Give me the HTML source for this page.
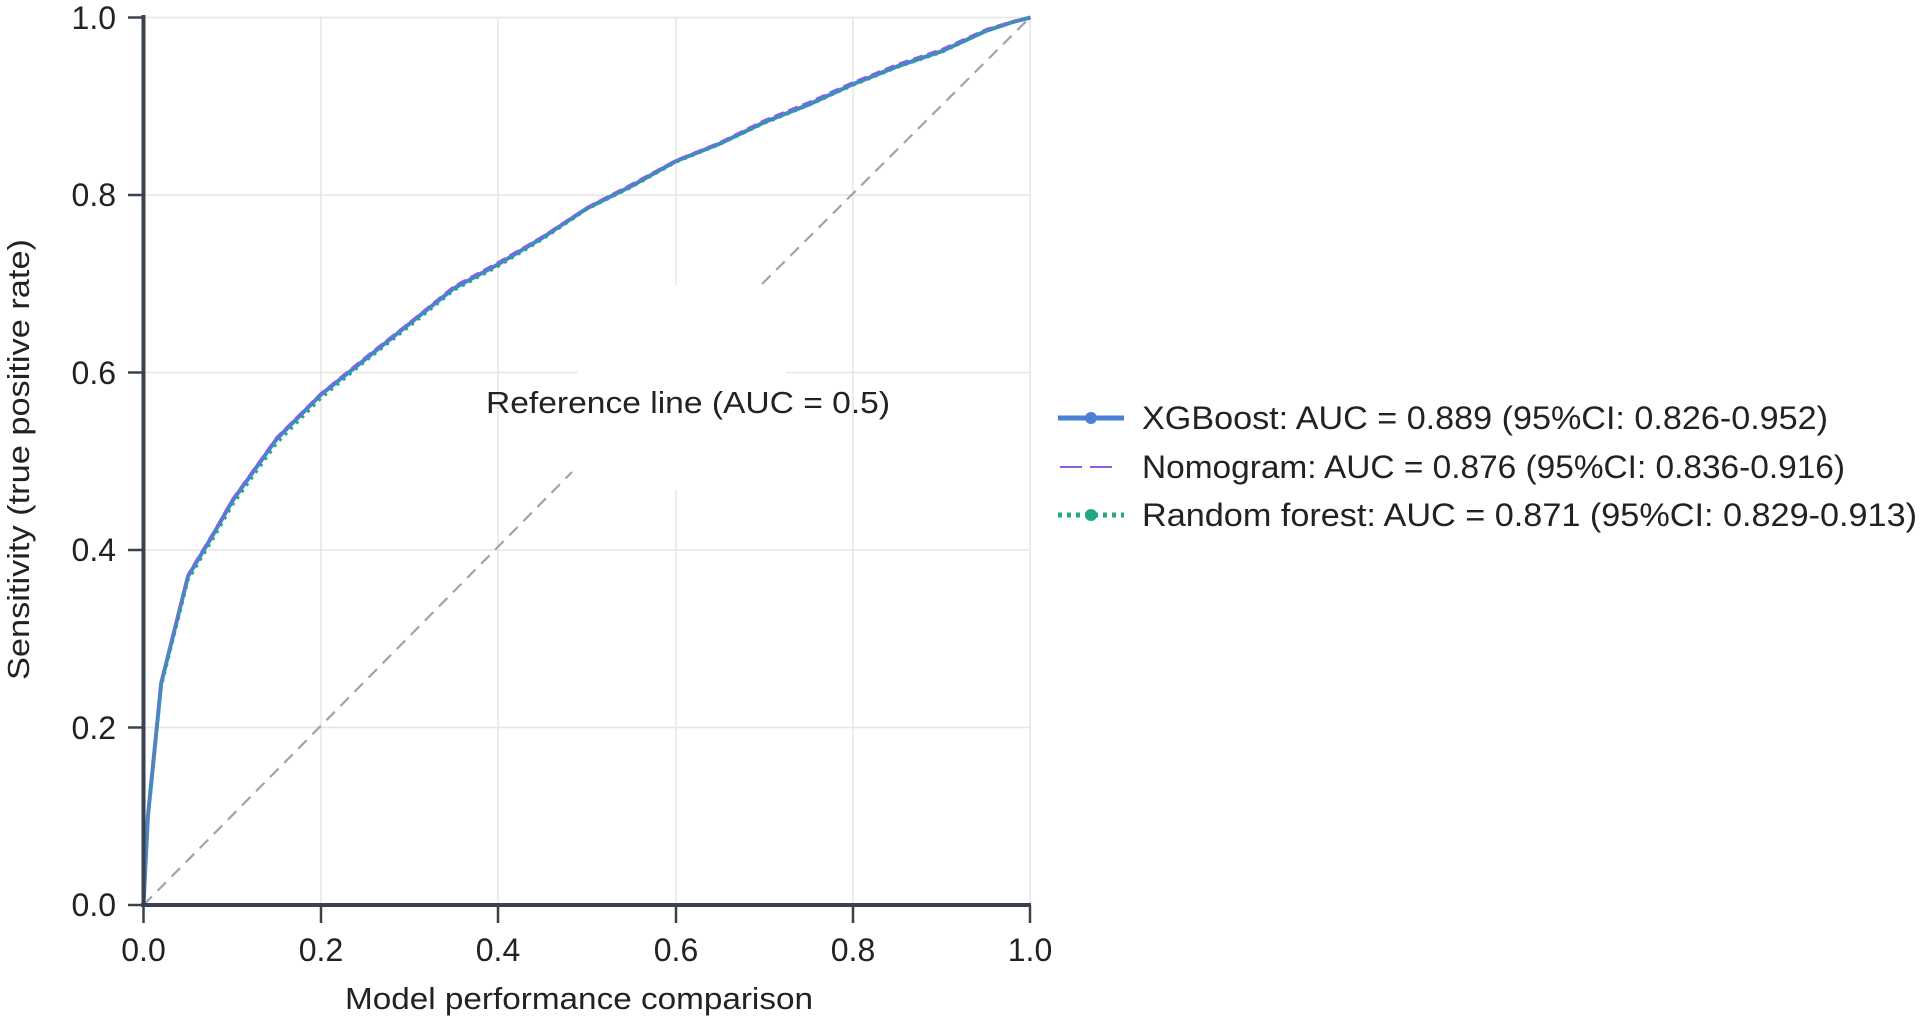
<!DOCTYPE html>
<html><head><meta charset="utf-8"><style>
html,body{margin:0;padding:0;background:#fff;}
svg{display:block;font-family:"Liberation Sans",sans-serif;}
</style></head><body>
<svg width="1920" height="1016" viewBox="0 0 1920 1016">
<g id="grid" stroke="#e6e6e6" stroke-width="1.5">
<line x1="321" y1="17" x2="321" y2="905"/><line x1="498" y1="17" x2="498" y2="905"/>
<line x1="676" y1="17" x2="676" y2="905"/><line x1="853" y1="17" x2="853" y2="905"/>
<line x1="1030" y1="17" x2="1030" y2="905"/>
<line x1="143" y1="17.5" x2="1031" y2="17.5"/><line x1="143" y1="195" x2="1031" y2="195"/>
<line x1="143" y1="372.5" x2="1031" y2="372.5"/><line x1="143" y1="550" x2="1031" y2="550"/>
<line x1="143" y1="727.5" x2="1031" y2="727.5"/>
</g>
<rect x="578" y="285" width="208" height="205" fill="#fff"/>
<g stroke="#9aa4b4" stroke-width="2.2" stroke-dasharray="12,8" fill="none">
<line x1="143.5" y1="905" x2="572" y2="472"/>
<line x1="762" y1="284" x2="1030" y2="17.5"/>
</g>
<text x="486" y="413" font-size="31" fill="#222" textLength="404" lengthAdjust="spacingAndGlyphs">Reference line (AUC = 0.5)</text>
<g fill="none" stroke-linejoin="round">
<g id="c">
</g>
<polyline stroke="#4a80d8" stroke-width="4" points="143.5,905 147.9,816.3 161.2,683.1 187.9,576.6 214.5,532.3 232.2,501.2 276.6,439.1 320.9,394.7 365.3,359.2 409.6,323.7 454,288.2 498.3,264.2 542.7,237.6 587,208.3 631.4,186.1 675.7,161.3 720.1,143.5 764.4,122.2 808.8,104.5 853.1,84.1 897.5,66.3 941.8,51.2 986.2,30.8 1012.8,22 1030.5,17.5"/>
<polyline stroke="#8a5fe6" stroke-width="2" stroke-dasharray="10,5" points="143.5,905 147.9,814 161.2,681 187.9,574 214.5,530 232.2,499 276.6,437 320.9,393 365.3,357 409.6,322 454,286 498.3,262 542.7,236 587,207 631.4,184 675.7,160 720.1,142 764.4,120 808.8,102 853.1,82 897.5,64 941.8,49 986.2,29 1012.8,21 1030.5,17.5"/>
<polyline stroke="#22a884" stroke-width="3.5" stroke-dasharray="3,5" points="143.5,905 147.9,819 161.2,686 187.9,580 214.5,536 232.2,505 276.6,443 320.9,398 365.3,361 409.6,326 454,290 498.3,266 542.7,239 587,209 631.4,187 675.7,162 720.1,144 764.4,123 808.8,105 853.1,85 897.5,67 941.8,52 986.2,31 1012.8,22 1030.5,17.5"/>
</g>
<g stroke="#3a4250" stroke-width="4" fill="none">
<line x1="143.5" y1="15" x2="143.5" y2="905"/>
<line x1="141" y1="905" x2="1031" y2="905"/>
</g>
<g stroke="#3a4250" stroke-width="2.5">
<line x1="128" y1="17.5" x2="143" y2="17.5"/><line x1="128" y1="195" x2="143" y2="195"/>
<line x1="128" y1="372.5" x2="143" y2="372.5"/><line x1="128" y1="550" x2="143" y2="550"/>
<line x1="128" y1="727.5" x2="143" y2="727.5"/><line x1="128" y1="905" x2="143" y2="905"/>
<line x1="143.5" y1="905" x2="143.5" y2="923"/><line x1="321" y1="905" x2="321" y2="923"/>
<line x1="498" y1="905" x2="498" y2="923"/><line x1="676" y1="905" x2="676" y2="923"/>
<line x1="853" y1="905" x2="853" y2="923"/><line x1="1030" y1="905" x2="1030" y2="923"/>
</g>
<g font-size="32" fill="#222" text-anchor="end">
<text x="116" y="29">1.0</text><text x="116" y="206">0.8</text><text x="116" y="384">0.6</text>
<text x="116" y="561">0.4</text><text x="116" y="739">0.2</text><text x="116" y="916">0.0</text>
</g>
<g font-size="32" fill="#222" text-anchor="middle">
<text x="143.5" y="961">0.0</text><text x="321" y="961">0.2</text><text x="498" y="961">0.4</text>
<text x="676" y="961">0.6</text><text x="853" y="961">0.8</text><text x="1030" y="961">1.0</text>
</g>
<g font-size="31" fill="#222">
<text x="345" y="1009" textLength="468" lengthAdjust="spacingAndGlyphs">Model performance comparison</text>
<text transform="translate(29,680) rotate(-90)" textLength="441" lengthAdjust="spacingAndGlyphs">Sensitivity (true positive rate)</text>
</g>
<line x1="1058" y1="418" x2="1124" y2="418" stroke="#4a80d8" stroke-width="5"/>
<circle cx="1091" cy="418" r="6" fill="#4a80d8"/>
<line x1="1060" y1="467" x2="1120" y2="467" stroke="#8a5fe6" stroke-width="2" stroke-dasharray="22,8"/>
<line x1="1058" y1="515" x2="1124" y2="515" stroke="#22a884" stroke-width="5" stroke-dasharray="4,5"/>
<circle cx="1091" cy="515" r="6" fill="#22a884"/>
<g font-size="32" fill="#222">
<text x="1142" y="429" textLength="686" lengthAdjust="spacingAndGlyphs">XGBoost: AUC = 0.889 (95%CI: 0.826-0.952)</text>
<text x="1142" y="478" textLength="703" lengthAdjust="spacingAndGlyphs">Nomogram: AUC = 0.876 (95%CI: 0.836-0.916)</text>
<text x="1142" y="526" textLength="775" lengthAdjust="spacingAndGlyphs">Random forest: AUC = 0.871 (95%CI: 0.829-0.913)</text>
</g>
</svg>
</body></html>
